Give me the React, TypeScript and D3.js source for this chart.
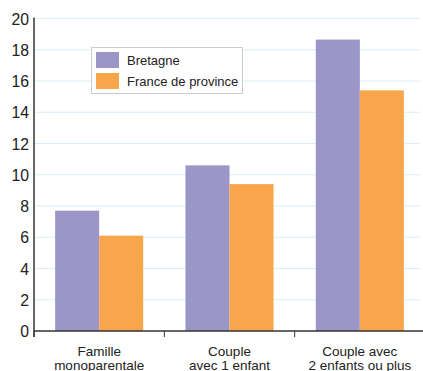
import React from "react";
import * as d3 from "d3";

const categories = ["Famille|monoparentale", "Couple|avec 1 enfant", "Couple avec|2 enfants ou plus"];
const seriesNames = ["Bretagne", "France de province"];
const bretagne = [7.7, 10.6, 18.65];
const france = [6.1, 9.4, 15.4];
const yTicks = [0, 2, 4, 6, 8, 10, 12, 14, 16, 18, 20];
const colors = ["#9b95c8", "#f9a54b"];

export default function App() {
  const W = 423, H = 371;
  const left = 34, right = 425, top = 18.5, bottom = 331;
  const x = d3.scaleBand().domain(categories).range([left, right]).paddingInner(0).paddingOuter(0);
  const y = d3.scaleLinear().domain([0, 20]).range([bottom, top]);
  const inner = d3.scaleBand().domain(seriesNames).range([0, x.bandwidth()]).paddingOuter(0.48).paddingInner(0);
  const series = [bretagne, france];
  const font = "Liberation Sans, Arial, sans-serif";
  return (
    <svg width={W} height={H} style={{ position: "absolute", left: 0, top: 0 }} fontFamily={font}>
      <rect width={W} height={H} fill="#fff" />
      {yTicks.map((t) => (
        <g key={t}>
          {t > 0 && <line x1={left} x2={420} y1={y(t)} y2={y(t)} stroke="#dcedf7" strokeWidth={1} />}
          <text x={29} y={y(t)} dy="0.36em" textAnchor="end" fontSize={17} fill="#222"
            transform={`translate(29,0) scale(0.93,1) translate(-29,0)`}>{t}</text>
        </g>
      ))}
      {categories.map((c, ci) =>
        seriesNames.map((s, si) => (
          <rect key={c + s} x={(x(c) as number) + (inner(s) as number)} width={inner.bandwidth()}
            y={y(series[si][ci])} height={bottom - y(series[si][ci])} fill={colors[si]} />
        ))
      )}
      <line x1={left} x2={left} y1={top - 1} y2={337} stroke="#333" strokeWidth={1.5} />
      <line x1={left} x2={423} y1={bottom} y2={bottom} stroke="#333" strokeWidth={1.5} />
      {categories.map((c) => (
        <line key={c} x1={x(c) as number} x2={x(c) as number} y1={bottom} y2={337} stroke="#333" strokeWidth={1} />
      ))}
      {categories.map((c) => {
        const cx = (x(c) as number) + x.bandwidth() / 2;
        return (
          <text key={c} x={cx} textAnchor="middle" fontSize={13.5} fill="#222">
            {c.split("|").map((l, i) => (
              <tspan key={i} x={cx} y={356 + i * 14}>{l}</tspan>
            ))}
          </text>
        );
      })}
      <rect x={91.5} y={47.5} width={151} height={46} fill="#fff" stroke="#ccc" strokeWidth={1} />
      {seriesNames.map((s, i) => (
        <g key={s}>
          <rect x={96} y={52 + i * 21} width={23} height={16} fill={colors[i]} />
          <text x={127} y={60 + i * 21} dy="0.36em" fontSize={13} fill="#222">{s}</text>
        </g>
      ))}
    </svg>
  );
}
